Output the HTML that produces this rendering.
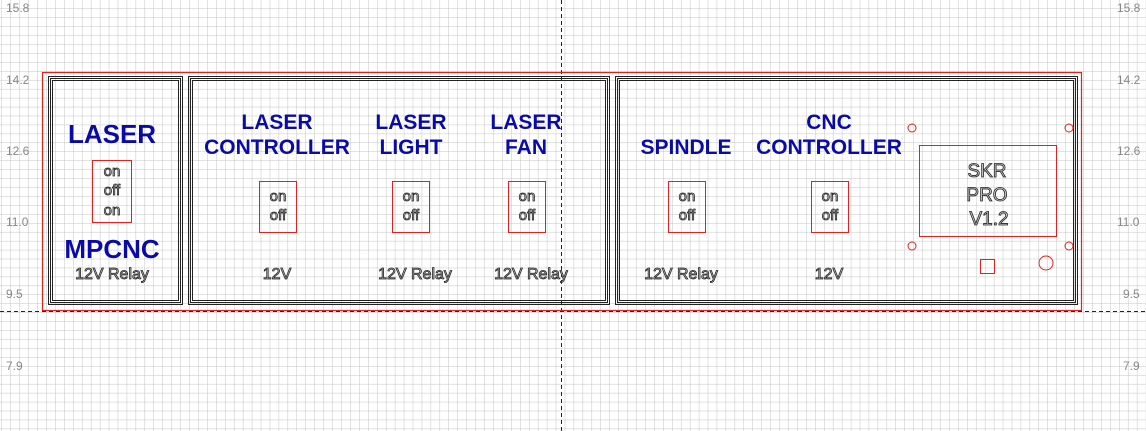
<!DOCTYPE html>
<html><head><meta charset="utf-8"><style>
html,body{margin:0;padding:0;background:#fff}
svg{display:block}
.h{font-family:"Liberation Sans",sans-serif;font-weight:bold;fill:#0a0aa8;text-anchor:middle}
.s{font-family:"Liberation Sans",sans-serif;fill:#ddd;stroke:#222;stroke-width:0.8;text-anchor:middle;font-size:15px}
.b{font-family:"Liberation Sans",sans-serif;fill:#ccc;stroke:#222;stroke-width:0.8;text-anchor:middle;font-size:16px}
.ax{font-family:"Liberation Sans",sans-serif;fill:#888;font-size:12px}
</style></head><body>
<svg width="1146" height="431" viewBox="0 0 1146 431" xmlns="http://www.w3.org/2000/svg">
<defs>
<pattern id="g" x="2" y="0" width="8.94" height="8.94" patternUnits="userSpaceOnUse">
<path d="M8.94 0V8.94M0 8.94H8.94" stroke="#c4c4c4" stroke-width="1" fill="none"/>
</pattern>
</defs>
<rect width="1146" height="431" fill="#fff"/>
<rect width="1146" height="431" fill="url(#g)"/>
<text class="ax" x="6" y="12">15.8</text>
<text class="ax" x="6" y="84">14.2</text>
<text class="ax" x="6" y="155">12.6</text>
<text class="ax" x="6" y="226">11.0</text>
<text class="ax" x="6" y="298">9.5</text>
<text class="ax" x="6" y="370">7.9</text>
<text class="ax" x="1117" y="12">15.8</text>
<text class="ax" x="1117" y="84">14.2</text>
<text class="ax" x="1117" y="155">12.6</text>
<text class="ax" x="1117" y="226">11.0</text>
<text class="ax" x="1123" y="298">9.5</text>
<text class="ax" x="1123" y="370">7.9</text>
<line x1="561.5" y1="0" x2="561.5" y2="431" stroke="#222" stroke-dasharray="4,3"/>
<line x1="0" y1="311.5" x2="1146" y2="311.5" stroke="#222" stroke-dasharray="4,3"/>
<rect x="42.5" y="72.5" width="1039" height="238" fill="none" stroke="#d22" stroke-width="1.2"/>
<g fill="none" stroke="#222" stroke-width="1">
<rect x="48.5" y="76.5" width="134" height="228"/><rect x="50.5" y="78.5" width="130" height="224"/><rect x="52.5" y="80.5" width="126" height="220"/>
<rect x="188.5" y="76.5" width="421" height="228"/><rect x="190.5" y="78.5" width="417" height="224"/><rect x="192.5" y="80.5" width="413" height="220"/>
<rect x="615.5" y="76.5" width="462" height="228"/><rect x="617.5" y="78.5" width="458" height="224"/><rect x="619.5" y="80.5" width="454" height="220"/>
</g>
<g class="h" font-size="26"><text x="112" y="143">LASER</text><text x="112" y="258">MPCNC</text></g>
<g class="h" font-size="21">
<text x="277" y="129">LASER</text><text x="277" y="154">CONTROLLER</text>
<text x="411" y="129">LASER</text><text x="411" y="154">LIGHT</text>
<text x="526" y="129">LASER</text><text x="526" y="154">FAN</text>
<text x="686" y="154">SPINDLE</text>
<text x="829" y="129">CNC</text><text x="829" y="154">CONTROLLER</text>
</g>
<g fill="none" stroke="#d22" stroke-width="1">
<rect x="92.5" y="160.5" width="39" height="62"/>
<rect x="259.5" y="181.5" width="37" height="51"/>
<rect x="392.5" y="181.5" width="37" height="51"/>
<rect x="508.5" y="181.5" width="37" height="51"/>
<rect x="668.5" y="181.5" width="37" height="51"/>
<rect x="811.5" y="181.5" width="37" height="51"/>
<rect x="919.5" y="145.5" width="137" height="91"/>
<circle cx="912" cy="128" r="4"/><circle cx="1069" cy="128" r="4"/>
<circle cx="912" cy="246" r="4"/><circle cx="1069" cy="246" r="4"/>
<rect x="980.5" y="259.5" width="14" height="14"/>
<circle cx="1046" cy="263" r="7"/>
</g>
<g class="s">
<text x="112" y="176">on</text><text x="112" y="195">off</text><text x="112" y="215">on</text>
<text x="278" y="201">on</text><text x="278" y="220">off</text>
<text x="411" y="201">on</text><text x="411" y="220">off</text>
<text x="527" y="201">on</text><text x="527" y="220">off</text>
<text x="687" y="201">on</text><text x="687" y="220">off</text>
<text x="830" y="201">on</text><text x="830" y="220">off</text>
</g>
<g class="b">
<text x="112" y="279">12V Relay</text>
<text x="277" y="279">12V</text>
<text x="415" y="279">12V Relay</text>
<text x="531" y="279">12V Relay</text>
<text x="681" y="279">12V Relay</text>
<text x="829" y="279">12V</text>
</g>
<g class="b" style="font-size:19px">
<text x="987" y="177">SKR</text><text x="987" y="201">PRO</text><text x="989" y="225">V1.2</text>
</g>
</svg>
</body></html>
